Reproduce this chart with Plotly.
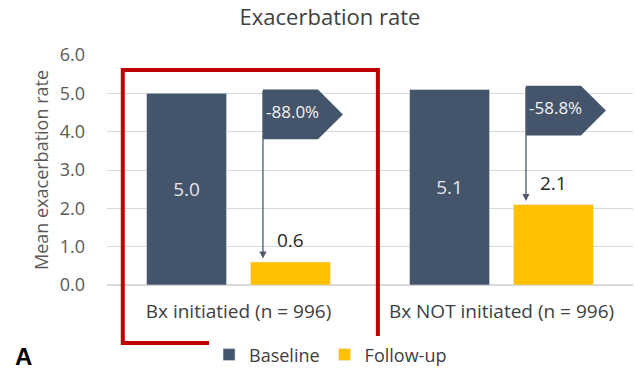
import plotly.graph_objects as go

categories = ["Bx initiatied (n = 996)", "Bx NOT initiated (n = 996)"]
baseline = [5.0, 5.1]
followup = [0.6, 2.1]
pct_labels = ["-88.0%", "-58.8%"]
y_ticks = [0, 1, 2, 3, 4, 5, 6]

DARK = "#44546A"
GOLD = "#FFC000"
FONT = "Open Sans"

xs = list(range(len(categories)))
bargap, bargroupgap = 0.21, 0.23
slot = (1 - bargap) / 2
fu_offset = slot / 2

fig = go.Figure()
fig.add_bar(x=xs, y=baseline, name="Baseline", marker_color=DARK,
            text=[f"{v:.1f}" for v in baseline], textposition="inside",
            insidetextanchor="middle",
            textfont=dict(color="#E7E6E6", size=19, family=FONT))
fig.add_bar(x=xs, y=followup, name="Follow-up", marker_color=GOLD)

shapes = []
annotations = []
for i, (b, f, lab) in enumerate(zip(baseline, followup, pct_labels)):
    xL = i + 0.093
    xR = xL + 0.209
    xT = xL + 0.304
    yT = b + 0.1
    yB = yT - 1.3
    yM = (yT + yB) / 2
    shapes.append(dict(type="path", xref="x", yref="y",
                       path=f"M {xL},{yB} L {xL},{yT} L {xR},{yT} L {xT},{yM} L {xR},{yB} Z",
                       fillcolor=DARK, line=dict(width=0), layer="above"))
    annotations.append(dict(x=xL, y=f + 0.09, ax=xL, ay=yT, axref="x", ayref="y",
                            xref="x", yref="y", text="", showarrow=True,
                            arrowhead=2, arrowsize=1.1, arrowwidth=1.3, arrowcolor="#4d5a6c"))
    annotations.append(dict(x=xL + 0.004, y=yM + 0.07, xref="x", yref="y", text=lab,
                            showarrow=False, xanchor="left",
                            font=dict(color="#F2F2F2", size=17, family=FONT)))
    annotations.append(dict(x=i + fu_offset, y=f, xref="x", yref="y", text=f"{f:.1f}",
                            showarrow=False, yanchor="bottom", yshift=7,
                            font=dict(color="#262626", size=19, family=FONT)))

# highlight box around first group (paper coords so it is not clipped)
shapes.append(dict(type="rect", xref="paper", yref="paper", x0=0.030, x1=0.515,
                   y0=-0.252, y1=0.935,
                   line=dict(color="#C00000", width=4), fillcolor="rgba(0,0,0,0)"))

annotations.append(dict(text="<b>A</b>", xref="paper", yref="paper", x=-0.178, y=-0.242,
                        xanchor="left", yanchor="top", showarrow=False,
                        font=dict(family="Liberation Sans", size=24, color="black")))

fig.update_layout(
    width=635, height=369,
    margin=dict(l=107, r=2, t=55, b=84, autoexpand=False),
    paper_bgcolor="white", plot_bgcolor="white",
    barmode="group", bargap=bargap, bargroupgap=bargroupgap,
    font=dict(family=FONT, color="#595959", size=19),
    title=dict(text="Exacerbation rate", x=330 / 635, xanchor="center",
               y=1 - 17 / 369, yanchor="middle",
               font=dict(size=22, color="#404040", family=FONT)),
    xaxis=dict(tickmode="array", tickvals=xs, ticktext=categories, range=[-0.5, 1.5],
               showgrid=False, zeroline=False, showline=False, ticks="", automargin=False,
               tickfont=dict(size=19, color="#404040"), ticklabelstandoff=13),
    yaxis=dict(range=[0, 6], tickvals=y_ticks, tickformat=".1f", showgrid=True,
               gridcolor="#D9D9D9", gridwidth=1, zeroline=True, zerolinecolor="#D9D9D9",
               showline=False, ticks="", ticklabelstandoff=21, automargin=False,
               tickfont=dict(size=18, color="#595959"),
               title=dict(text="Mean exacerbation rate", standoff=6,
                          font=dict(size=18, color="#595959"))),
    legend=dict(orientation="h", x=0.425, xanchor="center", y=-0.304, yanchor="middle",
                font=dict(size=18, color="#404040"), itemwidth=30),
    shapes=shapes, annotations=annotations,
)

fig.write_html("out.html", config={"displayModeBar": False},
               post_script="document.body.style.margin='0';document.body.style.padding='0';")
